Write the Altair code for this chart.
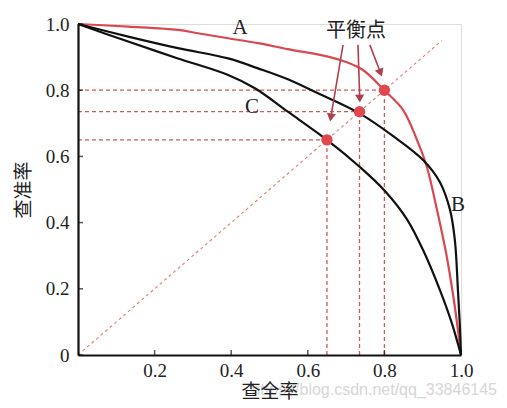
import math
import altair as alt
import pandas as pd

# ---- data ----
a_recall = [0.0, 0.131, 0.261, 0.313, 0.392, 0.47, 0.548, 0.658, 0.70, 0.744, 0.80, 0.849, 0.885, 0.911, 0.937, 0.963, 0.984, 1.0]
a_prec   = [1.0, 0.992, 0.982, 0.972, 0.957, 0.942, 0.924, 0.90, 0.885, 0.861, 0.80, 0.74, 0.65, 0.568, 0.44, 0.296, 0.145, 0.0]

b_recall = [0.0, 0.131, 0.261, 0.392, 0.47, 0.548, 0.624, 0.735, 0.822, 0.901, 0.945, 0.971, 0.984, 0.992, 0.997, 1.0]
b_prec   = [1.0, 0.962, 0.927, 0.896, 0.866, 0.833, 0.792, 0.73, 0.662, 0.589, 0.522, 0.44, 0.347, 0.196, 0.09, 0.0]

c_recall = [0.0, 0.131, 0.261, 0.392, 0.462, 0.548, 0.65, 0.736, 0.802, 0.859, 0.901, 0.945, 0.975, 1.0]
c_prec   = [1.0, 0.947, 0.896, 0.846, 0.806, 0.735, 0.65, 0.568, 0.495, 0.41, 0.317, 0.196, 0.10, 0.0]

bep = [0.65, 0.735, 0.80]          # break-even points (P = R)

curve_labels = ["A", "B", "C"]
label_x = [0.423, 0.992, 0.454]
label_y = [0.988, 0.453, 0.749]

note_text = "平衡点"
note_x, note_y = 0.726, 0.979

arrow_x0 = [0.692, 0.731, 0.762]
arrow_y0 = [0.937, 0.937, 0.937]
arrow_x1 = [0.658, 0.736, 0.794]
arrow_y1 = [0.704, 0.761, 0.840]

x_ticks = [0.2, 0.4, 0.6, 0.8, 1.0]
y_ticks = [0.0, 0.2, 0.4, 0.6, 0.8, 1.0]

diag_end = 0.95
watermark = "https://blog.csdn.net/qq_33846145"
wm_x, wm_y = 1.094, -0.106

# ---- layout / style ----
W, H = 383, 331
SERIF = "Liberation Serif"
CJK = "Noto Sans CJK SC"
RED = "#d9474f"
DASH = "#cf5a5a"
ARROW = "#b0404c"

xs = alt.Scale(domain=[0, 1], nice=False, zero=False)
ys = alt.Scale(domain=[0, 1], nice=False, zero=False)

def curve_df(rx, py, name):
    return pd.DataFrame({"r": rx, "p": py, "s": name, "o": list(range(len(rx)))})

curves = pd.concat([curve_df(a_recall, a_prec, "A"),
                    curve_df(b_recall, b_prec, "B"),
                    curve_df(c_recall, c_prec, "C")])

fmt = "datum.value == 0 ? '0' : format(datum.value, '.1f')"
x_axis = alt.Axis(values=x_ticks, labelExpr=fmt,
                  title="查全率", titleFont=CJK, titleFontSize=19, titleFontWeight="normal",
                  titleColor="#222", titlePadding=2, labelFont=SERIF, labelFontSize=19,
                  labelColor="#222", labelPadding=6, tickSize=0, domainColor="#111", domainWidth=2.2,
                  grid=False, labelFlush=False, zindex=1)
y_axis = alt.Axis(values=y_ticks, labelExpr=fmt,
                  title="查准率", titleFont=CJK, titleFontSize=19, titleFontWeight="normal",
                  titleColor="#222", titlePadding=12, labelFont=SERIF, labelFontSize=19,
                  labelColor="#222", labelPadding=9, tickSize=0, domainColor="#111", domainWidth=2.2,
                  grid=False, labelFlush=False, zindex=1)

# invisible layer carrying the axes
axes_layer = alt.Chart(pd.DataFrame({"r": [0, 1], "p": [0, 1]})).mark_point(opacity=0).encode(
    x=alt.X("r:Q", scale=xs, axis=x_axis),
    y=alt.Y("p:Q", scale=ys, axis=y_axis),
)

# inward ticks
xt = alt.Chart(pd.DataFrame({"r": x_ticks, "p": [0] * len(x_ticks)})).mark_tick(
    orient="vertical", size=5, thickness=1.5, color="#111", yOffset=-2.5).encode(
    x=alt.X("r:Q", scale=xs), y=alt.Y("p:Q", scale=ys))
yt = alt.Chart(pd.DataFrame({"r": [0] * len(y_ticks), "p": y_ticks})).mark_tick(
    orient="horizontal", size=5, thickness=1.5, color="#111", xOffset=2.5).encode(
    x=alt.X("r:Q", scale=xs), y=alt.Y("p:Q", scale=ys))

bdf = pd.DataFrame({"v": bep, "z": [0] * len(bep)})
hdash = alt.Chart(bdf).mark_rule(color=DASH, strokeDash=[4, 3], strokeWidth=1.3).encode(
    x=alt.X("z:Q", scale=xs), x2="v:Q", y=alt.Y("v:Q", scale=ys))
vdash = alt.Chart(bdf).mark_rule(color=DASH, strokeDash=[4, 3], strokeWidth=1.3).encode(
    x=alt.X("v:Q", scale=xs), y=alt.Y("z:Q", scale=ys), y2="v:Q")

diag = alt.Chart(pd.DataFrame({"a": [0.0], "b": [diag_end]})).mark_rule(
    color="#e07c6c", strokeDash=[3, 3], strokeWidth=1.1).encode(
    x=alt.X("a:Q", scale=xs), y=alt.Y("a:Q", scale=ys), x2="b:Q", y2="b:Q")

lines = alt.Chart(curves).mark_line(interpolate="catmull-rom", strokeWidth=2.2).encode(
    x=alt.X("r:Q", scale=xs),
    y=alt.Y("p:Q", scale=ys),
    order="o:Q",
    detail="s:N",
    color=alt.Color("s:N", scale=alt.Scale(domain=["A", "B", "C"], range=[RED, "#111111", "#111111"]), legend=None),
)

dots = alt.Chart(bdf).mark_circle(size=130, color="#e0474f", opacity=1).encode(
    x=alt.X("v:Q", scale=xs), y=alt.Y("v:Q", scale=ys))

# arrows
angles, hx, hy = [], [], []
for x0, y0, x1, y1 in zip(arrow_x0, arrow_y0, arrow_x1, arrow_y1):
    dx = (x1 - x0) * W
    dy = -(y1 - y0) * H
    ang = math.degrees(math.atan2(dx, -dy)) % 360
    angles.append(ang)
    L = math.hypot(dx, dy)
    back = 4.5
    hx.append(x1 - (dx / L) * back / W)
    hy.append(y1 + (dy / L) * back / H)
adf = pd.DataFrame({"x0": arrow_x0, "y0": arrow_y0, "x1": hx, "y1": hy, "ang": angles})
shafts = alt.Chart(adf).mark_rule(color=ARROW, strokeWidth=1.6).encode(
    x=alt.X("x0:Q", scale=xs), y=alt.Y("y0:Q", scale=ys), x2="x1:Q", y2="y1:Q")
heads = alt.Chart(adf).mark_point(shape="triangle-up", filled=True, size=85, color=ARROW, opacity=1).encode(
    x=alt.X("x1:Q", scale=xs), y=alt.Y("y1:Q", scale=ys),
    angle=alt.Angle("ang:Q", scale=None))

ldf = pd.DataFrame({"t": curve_labels, "x": label_x, "y": label_y})
labels = alt.Chart(ldf).mark_text(font=SERIF, fontSize=21, color="#222").encode(
    x=alt.X("x:Q", scale=xs), y=alt.Y("y:Q", scale=ys), text="t:N")

note = alt.Chart(pd.DataFrame({"t": [note_text], "x": [note_x], "y": [note_y]})).mark_text(
    font=CJK, fontSize=20, color="#222").encode(
    x=alt.X("x:Q", scale=xs), y=alt.Y("y:Q", scale=ys), text="t:N")

wm = alt.Chart(pd.DataFrame({"t": [watermark], "x": [wm_x], "y": [wm_y]})).mark_text(
    font="Liberation Sans", fontSize=16, color="#d6d6d6", align="right").encode(
    x=alt.X("x:Q", scale=xs), y=alt.Y("y:Q", scale=ys), text="t:N")

chart = alt.layer(axes_layer, wm, hdash, vdash, diag, lines, dots, shafts, heads, xt, yt, labels, note).properties(
    width=W, height=H,
    autosize=alt.AutoSizeParams(type="none"),
    padding={"left": 70, "top": 16, "right": 36, "bottom": 52},
).configure_view(stroke=None).configure(background="white")

chart.save("out.html", embed_options={"renderer": "svg", "actions": False})
